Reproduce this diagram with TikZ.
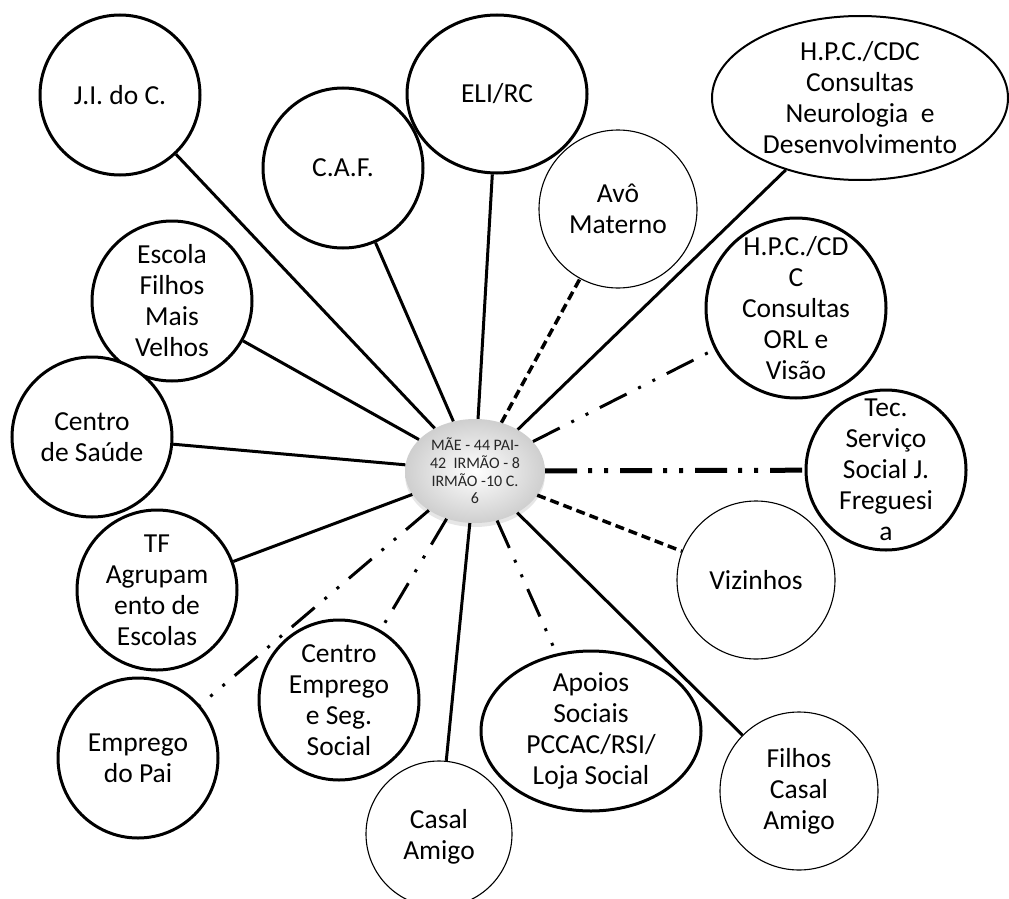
\documentclass[tikz,border=0pt]{standalone}
\usepackage{fontspec}
\setmainfont{Carlito}
\usetikzlibrary{shapes.geometric,shadows}
\begin{document}
\begin{tikzpicture}[x=1pt,y=-1pt,
  bub/.style={circle, draw, line width=3pt, fill=white, minimum size=160pt, inner sep=0pt},
  thinbub/.style={circle, draw, line width=1.1pt, fill=white, minimum size=158pt, inner sep=0pt},
  ell/.style={ellipse, draw, fill=white, inner sep=0pt},
  lbl/.style={align=center, font=\fontsize{27.5}{31}\selectfont, inner sep=0pt},
  solidlink/.style={line width=3pt},
  dashlink/.style={line width=3.5pt, dash pattern=on 9pt off 5pt},
  ddlink/.style={line width=3pt, dash pattern=on 30pt off 13pt on 3pt off 13pt on 3pt off 13pt},
  heavylink/.style={line width=5pt, dash pattern=on 32pt off 11pt on 4pt off 12pt on 4pt off 12pt},
]
\useasboundingbox (0,0) rectangle (1009,899);

% outer nodes (shapes)
\node[bub] (jic) at (120,95) {};
\node[bub] (caf) at (343,168) {};
\node[ell, line width=3pt, minimum width=180pt, minimum height=158pt] (eli) at (497,94) {};
\node[ell, line width=2pt, minimum width=296pt, minimum height=164pt] (hpca) at (860,98) {};
\node[thinbub] (avo) at (618,209) {};
\node[bub, minimum size=180pt] (hpcb) at (796,308) {};
\node[bub] (esc) at (172,301) {};
\node[bub] (cs) at (92,437) {};
\node[bub] (tec) at (886,470) {};
\node[thinbub] (viz) at (756,580) {};
\node[bub] (tf) at (157,590) {};
\node[bub] (cem) at (339,700) {};
\node[bub] (emp) at (138,758) {};
\node[thinbub, minimum size=146pt] (casal) at (439,834) {};
\node[ell, line width=3pt, minimum width=220pt, minimum height=160pt] (apo) at (591,731) {};
\node[thinbub] (fca) at (799,791) {};

% central node
\node[ellipse, minimum width=140pt, minimum height=104pt, inner sep=0pt,
      shading=radial, inner color=white, outer color=gray!38,
      drop shadow={opacity=0.2, shadow xshift=0pt, shadow yshift=-4pt, fill=gray}] (c) at (475,471) {};

% connectors
\draw[solidlink] (c) -- (jic);
\draw[solidlink] (c) -- (caf);
\draw[solidlink] (c) -- (eli);
\draw[solidlink] (c) -- (hpca);
\draw[dashlink] (c) -- (avo);
\draw[ddlink] (c) -- (hpcb);
\draw[solidlink] (c) -- (esc);
\draw[solidlink] (c) -- (cs);
\draw[heavylink] (c) -- (tec);
\draw[dashlink] (c) -- (viz);
\draw[solidlink] (c) -- (tf);
\draw[ddlink] (c) -- (cem);
\draw[ddlink] (c) -- (emp);
\draw[solidlink] (c) -- (casal);
\draw[ddlink] (c) -- (apo);
\draw[solidlink] (c) -- (fca);

% labels
\node[lbl] (tjic) at (jic) {J.I. do C.};
\node[lbl] (tcaf) at (caf) {C.A.F.};
\node[lbl] (teli) at (eli) {ELI/RC};
\node[lbl] (thpca) at (hpca) {H.P.C./CDC\\Consultas\\Neurologia\ \ e\\Desenvolvimento};
\node[lbl] (tavo) at (avo) {Avô\\Materno};
\node[lbl] (thpcb) at (hpcb) {H.P.C./CD\\C\\Consultas\\ORL e\\Visão};
\node[lbl] (tesc) at (esc) {Escola\\Filhos\\Mais\\Velhos};
\node[lbl] (tcs) at (cs) {Centro\\de Saúde};
\node[lbl] (ttec) at (tec) {Tec.\\Serviço\\Social J.\\Freguesi\\a};
\node[lbl] (tviz) at (viz) {Vizinhos};
\node[lbl] (ttf) at (tf) {TF\\Agrupam\\ento de\\Escolas};
\node[lbl] (tcem) at (cem) {Centro\\Emprego\\e Seg.\\Social};
\node[lbl] (temp) at (emp) {Emprego\\do Pai};
\node[lbl] (tcasal) at ([yshift=-3pt]casal.center) {Casal\\Amigo};
\node[lbl] (tapo) at (apo) {Apoios\\Sociais\\PCCAC/RSI/\\Loja Social};
\node[lbl] (tfca) at (fca) {Filhos\\Casal\\Amigo};
\node[align=center, inner sep=0pt, text=black!85, font=\fontsize{16}{17.7}\selectfont] (tc) at (c) {MÃE - 44 PAI-\\42\ \ IRMÃO - 8\\IRMÃO -10 C.\\6};
\end{tikzpicture}
\end{document}
